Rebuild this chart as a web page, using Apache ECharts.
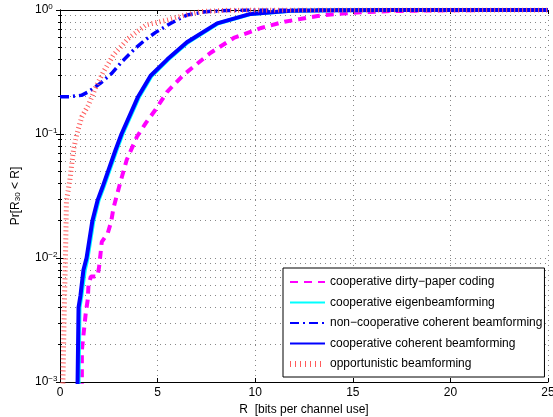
<!DOCTYPE html>
<html>
<head>
<meta charset="utf-8">
<script src="https://cdn.jsdelivr.net/npm/echarts@6/dist/echarts.min.js"></script>
<style>html,body{margin:0;padding:0;background:#fff}#c{width:553px;height:417px}</style>
</head>
<body>
<div id="c"></div>
<script>
// ---- data ----
const seriesNames = [
  'cooperative dirty\u2212paper coding',
  'cooperative eigenbeamforming',
  'non\u2212cooperative coherent beamforming',
  'cooperative coherent beamforming',
  'opportunistic beamforming'
];
const xTicks = [0, 5, 10, 15, 20, 25];
const yTicks = [0.001, 0.01, 0.1, 1];

const dpcR = [1.1,1.12,1.12,1.32,1.42,1.46,1.58,1.92,2.0,2.07,2.14,2.45,2.62,2.74,2.83,3.08,3.42,3.94,4.4,4.88,5.5,6.33,7.7,8.9,10.3,11.5,12.3,13.2,14.0,14.7,15.4,16.25,16.9,18.3,20,22,25];
const dpcP = [0.0005,0.001,0.0018,0.0036,0.0046,0.006,0.0071,0.0071,0.0084,0.0106,0.0135,0.0159,0.0196,0.0253,0.026,0.0401,0.062,0.095,0.123,0.156,0.22,0.3,0.45,0.595,0.716,0.805,0.846,0.895,0.923,0.94,0.957,0.97,0.98,0.987,0.995,0.999,1];

const eigR = [0.93,0.95,1.0,1.1,1.27,1.41,1.71,1.97,2.22,2.89,3.2,4.05,4.69,5.55,6.55,8.1,9.8,11.85,14,17,25];
const eigP = [0.0005,0.001,0.004,0.005,0.008,0.01,0.02,0.029,0.037,0.074,0.1,0.2,0.295,0.4,0.55,0.78,0.93,0.985,0.996,0.999,1];

const ncR = [0,0.5,1.1,1.46,2.06,2.65,3.17,3.85,4.36,4.9,5.66,6.5,7.5,8.5,10,25];
const ncP = [0.2,0.2,0.205,0.219,0.256,0.308,0.383,0.49,0.573,0.66,0.78,0.91,0.97,0.99,1,1];

const cohR = [0.88,0.9,0.95,1.05,1.2,1.36,1.66,1.92,2.17,2.84,3.15,4.0,4.64,5.5,6.5,8.05,9.76,11.8,14,17,25];
const cohP = [0.0005,0.001,0.004,0.005,0.008,0.01,0.02,0.029,0.037,0.074,0.1,0.2,0.295,0.4,0.55,0.78,0.93,0.985,0.996,0.999,1];

const oppR = [0.08,0.15,0.22,0.28,0.33,0.5,0.69,0.86,1.12,1.46,1.8,2.23,2.74,3.5,4.4,5.5,6.3,7.2,8.6,10,25];
const oppP = [0.0004,0.001,0.004,0.01,0.029,0.042,0.074,0.1,0.138,0.171,0.233,0.318,0.434,0.59,0.757,0.83,0.9,0.97,0.995,1,1];

function pairs(xs, ys) { return xs.map((x, i) => [x, ys[i]]); }

const FONT = 'Liberation Sans, Arial, Helvetica, sans-serif';
const gridLine = { show: true, lineStyle: { color: '#888', width: 1, type: [1, 4] } };
const RED = '#ff5a5a';

function yLabel(v) {
  const e = Math.round(Math.log10(v));
  return '10{e|' + (e === 0 ? '0' : '\u2212' + (-e)) + '}';
}

const chart = echarts.init(document.getElementById('c'), null, { renderer: 'canvas' });
chart.setOption({
  animation: false,
  backgroundColor: '#fff',
  textStyle: { fontFamily: FONT },
  grid: { left: 60, right: 5, top: 10, bottom: 35, containLabel: false, outerBoundsMode: 'none' },
  xAxis: [{
    type: 'value', min: 0, max: 25, interval: 5,
    name: 'R  [bits per channel use]', nameLocation: 'middle', nameGap: 19,
    nameTextStyle: { fontSize: 12, color: '#000', fontFamily: FONT },
    axisLine: { show: true, lineStyle: { color: '#000', width: 1 } },
    axisTick: { show: true, inside: true, length: 4, lineStyle: { color: '#000' } },
    axisLabel: { fontSize: 12, color: '#000', margin: 5, fontFamily: FONT,
      formatter: v => (xTicks.indexOf(v) >= 0 ? String(v) : '') },
    splitLine: gridLine
  }, {
    type: 'value', min: 0, max: 25, interval: 5, position: 'top',
    axisLine: { show: true, lineStyle: { color: '#000', width: 1 } },
    axisTick: { show: true, inside: true, length: 4, lineStyle: { color: '#000' } },
    axisLabel: { show: false }, splitLine: { show: false }
  }],
  yAxis: [{
    type: 'log', logBase: 10, min: yTicks[0], max: yTicks[yTicks.length - 1],
    name: 'Pr[R{sub|30} < R]', nameLocation: 'middle', nameGap: 38,
    nameTextStyle: { fontSize: 12, color: '#000', fontFamily: FONT,
      rich: { sub: { fontSize: 8, verticalAlign: 'bottom', fontFamily: FONT, color: '#000' } } },
    axisLine: { show: true, lineStyle: { color: '#000', width: 1 } },
    axisTick: { show: true, inside: true, length: 4, lineStyle: { color: '#000' } },
    minorTick: { show: true, splitNumber: 9, length: 2, lineStyle: { color: '#000' } },
    axisLabel: { fontSize: 12, color: '#000', margin: 25, align: 'left', fontFamily: FONT,
      formatter: yLabel,
      rich: { e: { fontSize: 8, verticalAlign: 'top', fontFamily: FONT, color: '#000', padding: [0, 0, 6, 0] } } },
    splitLine: gridLine,
    minorSplitLine: gridLine
  }, {
    type: 'log', logBase: 10, min: yTicks[0], max: yTicks[yTicks.length - 1], position: 'right',
    axisLine: { show: true, lineStyle: { color: '#000', width: 1 } },
    axisTick: { show: true, inside: true, length: 4, lineStyle: { color: '#000' } },
    minorTick: { show: true, splitNumber: 9, length: 2, lineStyle: { color: '#000' } },
    axisLabel: { show: false }, splitLine: { show: false }
  }],
  legend: {
    left: 283, top: 268, orient: 'vertical',
    backgroundColor: '#fff', borderColor: '#000', borderWidth: 1,
    padding: [8, 2, 7, 4], itemGap: 8.5, itemWidth: 35, itemHeight: 12,
    itemStyle: { opacity: 0 },
    textStyle: { fontSize: 12, color: '#000', fontFamily: FONT },
    data: seriesNames.map((n, i) => i === 4
      ? { name: n, lineStyle: { color: RED, width: 6, type: [1, 4], opacity: 1 } }
      : n)
  },
  series: [
    { name: seriesNames[0], type: 'line', data: pairs(dpcR, dpcP), symbol: 'none', showSymbol: false,
      lineStyle: { color: '#ff00ff', width: 4, type: [8, 6] }, itemStyle: { color: '#ff00ff' } },
    { name: seriesNames[1], type: 'line', data: pairs(eigR, eigP), symbol: 'none', showSymbol: false,
      lineStyle: { color: '#00ffff', width: 4 }, itemStyle: { color: '#00ffff' } },
    { name: seriesNames[2], type: 'line', data: pairs(ncR, ncP), symbol: 'none', showSymbol: false,
      lineStyle: { color: '#0000ff', width: 3.5, type: [9, 4, 2, 4] }, itemStyle: { color: '#0000ff' } },
    { name: seriesNames[3], type: 'line', data: pairs(cohR, cohP), symbol: 'none', showSymbol: false,
      lineStyle: { color: '#0000ff', width: 4 }, itemStyle: { color: '#0000ff' } },
    { name: seriesNames[4], type: 'line', data: pairs(oppR, oppP), symbol: 'none', showSymbol: false,
      lineStyle: { color: RED, width: 5, type: [1, 3] }, itemStyle: { color: RED } }
  ]
});
</script>
</body>
</html>
